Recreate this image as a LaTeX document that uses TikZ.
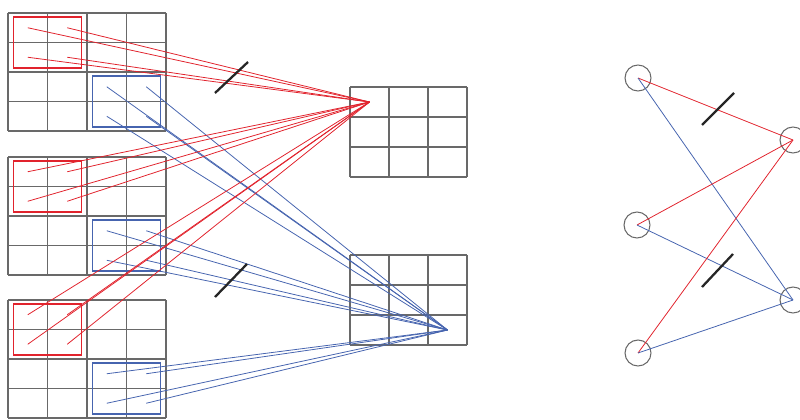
\documentclass[tikz,border=0pt]{standalone}
\usepackage{tikz}
\usepackage{xcolor}
\usetikzlibrary{positioning}
\definecolor{conv-red}{RGB}{225,35,45}
\definecolor{conv-blue}{RGB}{70,100,175}
\definecolor{grid-gray}{RGB}{105,105,105}

\begin{document}
\begin{tikzpicture}[
  x=0.02cm, y=-0.02cm,
  cell/.style={draw=grid-gray, line width=0.6pt},
  kernel/.style={draw, line width=1pt, minimum width=1.36cm, minimum height=1.02cm, inner sep=0pt},
  unit/.style={draw=grid-gray, circle, minimum size=0.52cm, inner sep=0pt, line width=0.6pt},
  wire/.style={line width=0.45pt},
  tick/.style={line width=1.3pt, black!85},
]
  \useasboundingbox (0,0) rectangle (800,419);

  % Input channels (4x4)
  \foreach \ch/\ty in {1/13, 2/157, 3/300} {
    \foreach \i in {0,...,4} {
      \draw[cell] (8+39.5*\i,\ty) -- (8+39.5*\i,\ty+118);
      \draw[cell] (8,\ty+29.5*\i) -- (166,\ty+29.5*\i);
    }
    \node[kernel, draw=conv-red] (red\ch) at (47.5,\ty+29.5) {};
    \node[kernel, draw=conv-blue] (blue\ch) at (126.5,\ty+88.5) {};
    \coordinate (red\ch-a) at (27.75,\ty+14.75);
    \coordinate (red\ch-b) at (67.25,\ty+14.75);
    \coordinate (red\ch-c) at (27.75,\ty+44.25);
    \coordinate (red\ch-d) at (67.25,\ty+44.25);
    \coordinate (blue\ch-a) at (106.75,\ty+73.75);
    \coordinate (blue\ch-b) at (146.25,\ty+73.75);
    \coordinate (blue\ch-c) at (106.75,\ty+103.25);
    \coordinate (blue\ch-d) at (146.25,\ty+103.25);
  }

  % Output channels (3x3)
  \foreach \ty in {87, 255} {
    \foreach \i in {0,...,3} {
      \draw[cell] (350+39*\i,\ty) -- (350+39*\i,\ty+90);
      \draw[cell] (350,\ty+30*\i) -- (467,\ty+30*\i);
    }
  }
  \coordinate (outA) at (369.5,102);
  \coordinate (outB) at (447.5,330);

  % Kernel connections
  \foreach \ch in {1,2,3}
    \foreach \c in {a,b,c,d} {
      \draw[wire, conv-red] (red\ch-\c) -- (outA);
      \draw[wire, conv-blue] (blue\ch-\c) -- (outB);
    }

  % Shared weight marks
  \draw[tick] (215,93) -- (248,62);
  \draw[tick] (215,297) -- (247,264);

  % Network view
  \node[unit] (in1) at (638,78) {};
  \node[unit] (in2) at (637,225) {};
  \node[unit] (in3) at (638,353) {};
  \node[unit] (hA) at (793,140) {};
  \node[unit] (hB) at (793,300) {};

  \foreach \n in {in1, in2, in3} {
    \draw[wire, conv-red] (\n.center) -- (hA.center);
    \draw[wire, conv-blue] (\n.center) -- (hB.center);
  }

  \draw[tick] (702,125) -- (734,93);
  \draw[tick] (702,287) -- (733,254);
\end{tikzpicture}
\end{document}
